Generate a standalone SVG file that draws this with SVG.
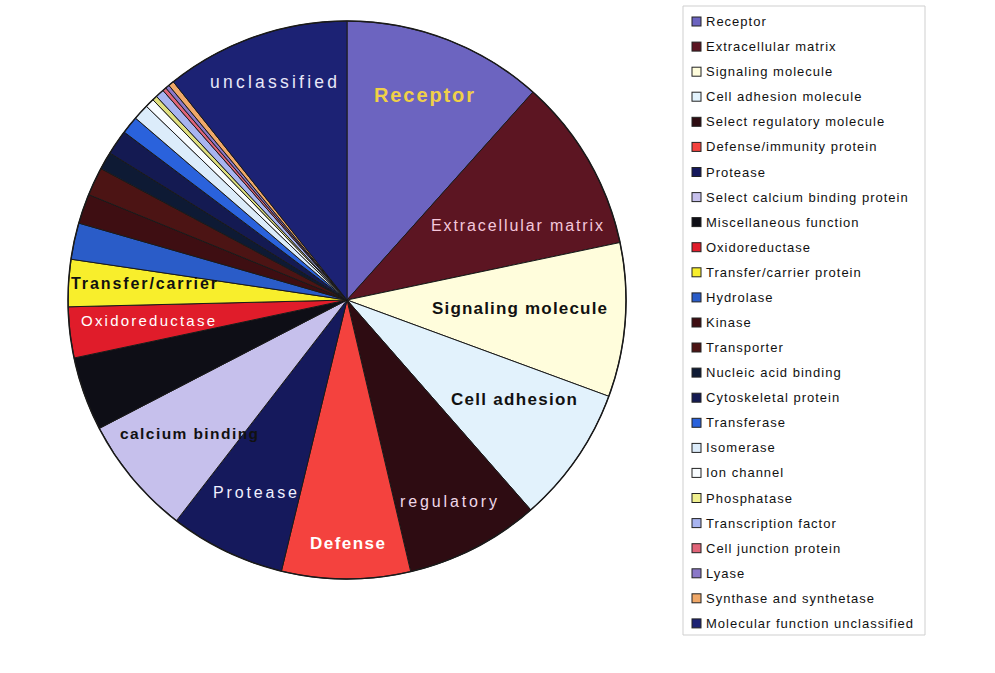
<svg xmlns="http://www.w3.org/2000/svg" width="995" height="673" viewBox="0 0 995 673">
<style>
.s{stroke:#1a1a1a;stroke-width:1;stroke-linejoin:round}
.lb{font-family:"Liberation Sans",Arial,sans-serif}
.b{font-weight:bold}
.lg{font-family:"Liberation Sans",Arial,sans-serif;font-size:13px;letter-spacing:1px;fill:#111}
.sq{stroke:#222;stroke-width:1}
</style>
<rect width="995" height="673" fill="#ffffff"/>
<g id="pie">
<path id="receptor" class="s" fill="#6c64c0" d="M347,300 L347,21 A279,279 0 0 1 533,92 Z"/>
<path id="extracellular" class="s" fill="#5c1522" d="M347,300 L533,92 A279,279 0 0 1 620,242.5 Z"/>
<path id="signaling" class="s" fill="#fffddc" d="M347,300 L620,242.5 A279,279 0 0 1 608.8,396.3 Z"/>
<path id="celladhesion" class="s" fill="#e2f2fc" d="M347,300 L608.8,396.3 A279,279 0 0 1 530.8,509.9 Z"/>
<path id="regulatory" class="s" fill="#2e0c12" d="M347,300 L530.8,509.9 A279,279 0 0 1 410.7,571.6 Z"/>
<path id="defense" class="s" fill="#f4423e" d="M347,300 L410.7,571.6 A279,279 0 0 1 281.4,571.2 Z"/>
<path id="protease" class="s" fill="#15195c" d="M347,300 L281.4,571.2 A279,279 0 0 1 176.4,520.7 Z"/>
<path id="calcium" class="s" fill="#c6c0ec" d="M347,300 L176.4,520.7 A279,279 0 0 1 99.3,428.4 Z"/>
<path id="misc" class="s" fill="#0e0e16" d="M347,300 L99.3,428.4 A279,279 0 0 1 74.1,358 Z"/>
<path id="oxido" class="s" fill="#e01c2a" d="M347,300 L74.1,358 A279,279 0 0 1 68.1,306.8 Z"/>
<path id="transfer" class="s" fill="#f8ee2c" d="M347,300 L68.1,306.8 A279,279 0 0 1 71,259.2 Z"/>
<path id="hydrolase" class="s" fill="#2a5cc8" d="M347,300 L71,259.2 A279,279 0 0 1 78.8,223.1 Z"/>
<path id="kinase" class="s" fill="#3e0e12" d="M347,300 L78.8,223.1 A279,279 0 0 1 88.7,194.6 Z"/>
<path id="transporter" class="s" fill="#4c1414" d="M347,300 L88.7,194.6 A279,279 0 0 1 100.9,168.6 Z"/>
<path id="nucleic" class="s" fill="#0e1a34" d="M347,300 L100.9,168.6 A279,279 0 0 1 109.9,153 Z"/>
<path id="cyto" class="s" fill="#141a52" d="M347,300 L109.9,153 A279,279 0 0 1 124.2,132.1 Z"/>
<path id="transferase" class="s" fill="#2a62dc" d="M347,300 L124.2,132.1 A279,279 0 0 1 135.5,118.1 Z"/>
<path id="isomerase" class="s" fill="#dcecfa" d="M347,300 L135.5,118.1 A279,279 0 0 1 146.3,106.2 Z"/>
<path id="ionchannel" class="s" fill="#f8fcff" d="M347,300 L146.3,106.2 A279,279 0 0 1 152.8,99.7 Z"/>
<path id="phosphatase" class="s" fill="#e0e080" d="M347,300 L152.8,99.7 A279,279 0 0 1 156.4,96.3 Z"/>
<path id="tf" class="s" fill="#a8b4f0" d="M347,300 L156.4,96.3 A279,279 0 0 1 162.9,90.4 Z"/>
<path id="celljunction" class="s" fill="#e06478" d="M347,300 L162.9,90.4 A279,279 0 0 1 165.8,87.9 Z"/>
<path id="lyase" class="s" fill="#8a78c8" d="M347,300 L165.8,87.9 A279,279 0 0 1 168.8,85.3 Z"/>
<path id="synthase" class="s" fill="#f0a868" d="M347,300 L168.8,85.3 A279,279 0 0 1 173.3,81.7 Z"/>
<path id="unclassified" class="s" fill="#1c2274" d="M347,300 L173.3,81.7 A279,279 0 0 1 347,21 Z"/>
<circle cx="347" cy="300" r="279" fill="none" stroke="#1a1a1a" stroke-width="1.5"/>
</g>
<g id="pie-labels">
<text class="lb" x="210" y="88" font-size="17.5" fill="#e8e8f8" textLength="127" lengthAdjust="spacing">unclassified</text>
<text class="lb b" x="374" y="102" font-size="20" fill="#f0d048" textLength="100" lengthAdjust="spacing">Receptor</text>
<text class="lb" x="431" y="231" font-size="16" fill="#f4c8dc" textLength="172" lengthAdjust="spacing">Extracellular matrix</text>
<text class="lb b" x="432" y="314" font-size="17" fill="#111" textLength="175" lengthAdjust="spacing">Signaling molecule</text>
<text class="lb b" x="451" y="405" font-size="17" fill="#111" textLength="126" lengthAdjust="spacing">Cell adhesion</text>
<text class="lb" x="400" y="507" font-size="16" fill="#f0d8e8" textLength="97" lengthAdjust="spacing">regulatory</text>
<text class="lb b" x="310" y="549" font-size="17" fill="#ffffff" textLength="75" lengthAdjust="spacing">Defense</text>
<text class="lb" x="213" y="498" font-size="16" fill="#f0f0ff" textLength="84" lengthAdjust="spacing">Protease</text>
<text class="lb b" x="120" y="439" font-size="15.5" fill="#111" textLength="138" lengthAdjust="spacing">calcium binding</text>
<text class="lb" x="81" y="326" font-size="15" fill="#ffffff" textLength="134" lengthAdjust="spacing">Oxidoreductase</text>
<text class="lb b" x="71" y="289" font-size="16" fill="#111" textLength="146" lengthAdjust="spacing">Transfer/carrier</text>
</g>
<g id="legend">
<path d="M683,6 H925 V635 H683 Z" fill="#ffffff" stroke="#cfcfcf" stroke-width="1"/>
<g id="lg-items">
<rect class="sq" x="692" y="17" width="9" height="9" fill="#6c64c0"/><text class="lg" x="706" y="26">Receptor</text>
<rect class="sq" x="692" y="42.1" width="9" height="9" fill="#5c1522"/><text class="lg" x="706" y="51.1">Extracellular matrix</text>
<rect class="sq" x="692" y="67.2" width="9" height="9" fill="#fffddc"/><text class="lg" x="706" y="76.2">Signaling molecule</text>
<rect class="sq" x="692" y="92.2" width="9" height="9" fill="#e2f2fc"/><text class="lg" x="706" y="101.2">Cell adhesion molecule</text>
<rect class="sq" x="692" y="117.3" width="9" height="9" fill="#2e0c12"/><text class="lg" x="706" y="126.3">Select regulatory molecule</text>
<rect class="sq" x="692" y="142.4" width="9" height="9" fill="#f4423e"/><text class="lg" x="706" y="151.4">Defense/immunity protein</text>
<rect class="sq" x="692" y="167.5" width="9" height="9" fill="#15195c"/><text class="lg" x="706" y="176.5">Protease</text>
<rect class="sq" x="692" y="192.6" width="9" height="9" fill="#c6c0ec"/><text class="lg" x="706" y="201.6">Select calcium binding protein</text>
<rect class="sq" x="692" y="217.6" width="9" height="9" fill="#0e0e16"/><text class="lg" x="706" y="226.6">Miscellaneous function</text>
<rect class="sq" x="692" y="242.7" width="9" height="9" fill="#e01c2a"/><text class="lg" x="706" y="251.7">Oxidoreductase</text>
<rect class="sq" x="692" y="267.8" width="9" height="9" fill="#f8ee2c"/><text class="lg" x="706" y="276.8">Transfer/carrier protein</text>
<rect class="sq" x="692" y="292.9" width="9" height="9" fill="#2a5cc8"/><text class="lg" x="706" y="301.9">Hydrolase</text>
<rect class="sq" x="692" y="318" width="9" height="9" fill="#3e0e12"/><text class="lg" x="706" y="327">Kinase</text>
<rect class="sq" x="692" y="343" width="9" height="9" fill="#4c1414"/><text class="lg" x="706" y="352">Transporter</text>
<rect class="sq" x="692" y="368.1" width="9" height="9" fill="#0e1a34"/><text class="lg" x="706" y="377.1">Nucleic acid binding</text>
<rect class="sq" x="692" y="393.2" width="9" height="9" fill="#141a52"/><text class="lg" x="706" y="402.2">Cytoskeletal protein</text>
<rect class="sq" x="692" y="418.3" width="9" height="9" fill="#2a62dc"/><text class="lg" x="706" y="427.3">Transferase</text>
<rect class="sq" x="692" y="443.4" width="9" height="9" fill="#dcecfa"/><text class="lg" x="706" y="452.4">Isomerase</text>
<rect class="sq" x="692" y="468.4" width="9" height="9" fill="#f8fcff"/><text class="lg" x="706" y="477.4">Ion channel</text>
<rect class="sq" x="692" y="493.5" width="9" height="9" fill="#f0f090"/><text class="lg" x="706" y="502.5">Phosphatase</text>
<rect class="sq" x="692" y="518.6" width="9" height="9" fill="#a8b4f0"/><text class="lg" x="706" y="527.6">Transcription factor</text>
<rect class="sq" x="692" y="543.7" width="9" height="9" fill="#e06478"/><text class="lg" x="706" y="552.7">Cell junction protein</text>
<rect class="sq" x="692" y="568.8" width="9" height="9" fill="#8a78c8"/><text class="lg" x="706" y="577.8">Lyase</text>
<rect class="sq" x="692" y="593.8" width="9" height="9" fill="#f0a868"/><text class="lg" x="706" y="602.8">Synthase and synthetase</text>
<rect class="sq" x="692" y="618.9" width="9" height="9" fill="#1c2274"/><text class="lg" x="706" y="627.9">Molecular function unclassified</text>
</g>
</g>
</svg>
